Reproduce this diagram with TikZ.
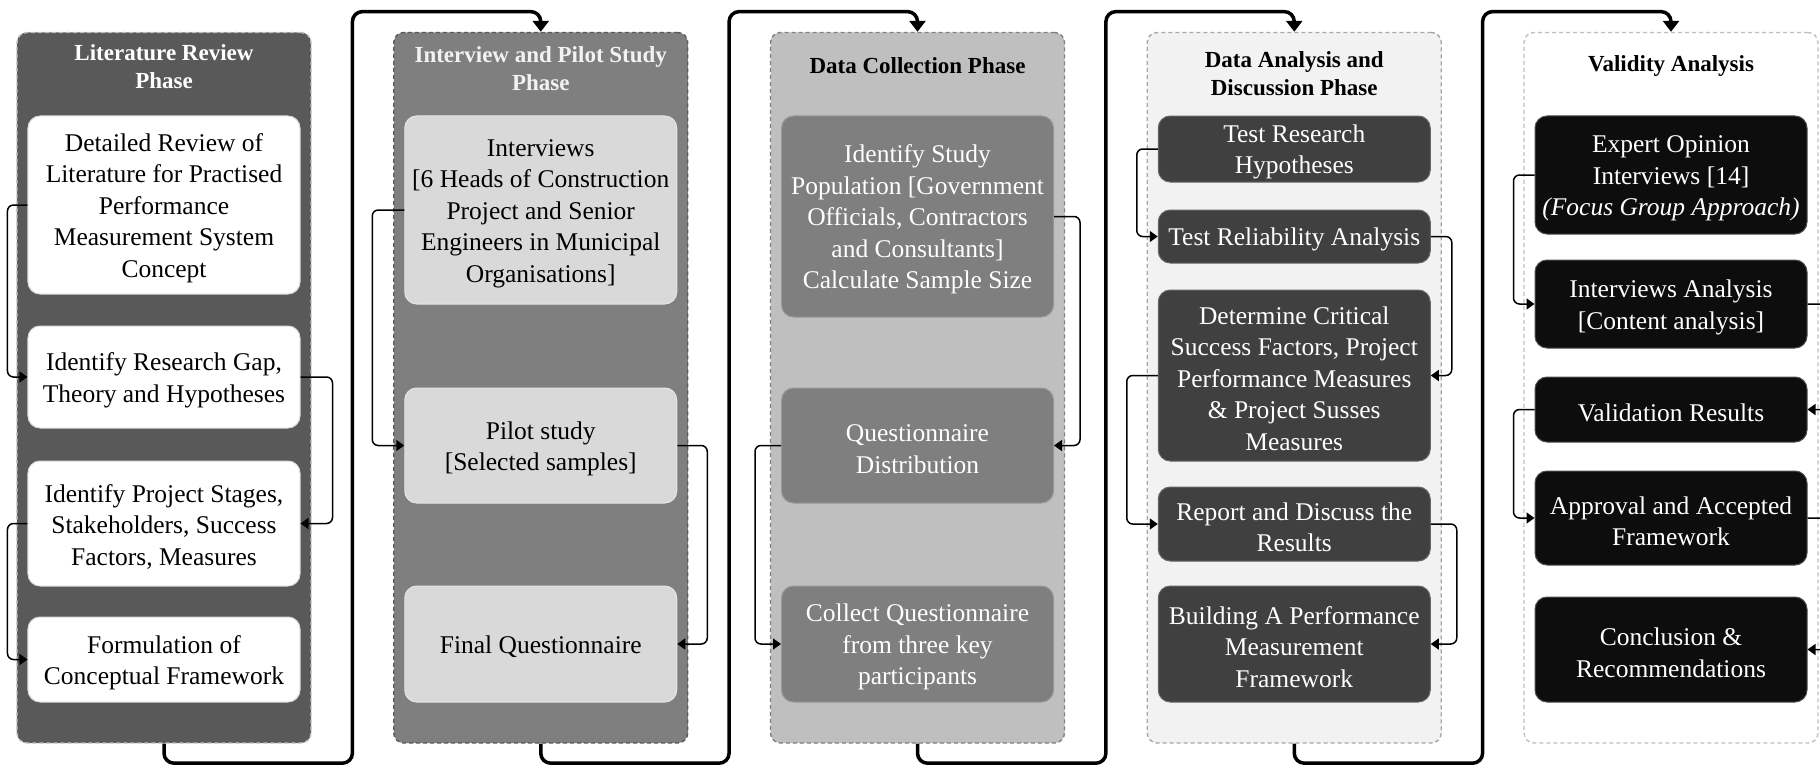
\documentclass[tikz,border=0pt]{standalone}
\usepackage{fontspec}
\setmainfont{Liberation Serif}
\usetikzlibrary{arrows.meta}

% panel fills, panel borders and step fills
\definecolor{panelA}{HTML}{595959}
\definecolor{panelB}{HTML}{7F7F7F}
\definecolor{panelC}{HTML}{BFBFBF}
\definecolor{panelD}{HTML}{F2F2F2}
\definecolor{panelE}{HTML}{FFFFFF}
\definecolor{edgeA}{HTML}{BFBFBF}
\definecolor{edgeB}{HTML}{5A5A5A}
\definecolor{edgeC}{HTML}{808080}
\definecolor{edgeD}{HTML}{A6A6A6}
\definecolor{edgeE}{HTML}{BFBFBF}
\definecolor{stepfillA}{HTML}{FFFFFF}
\definecolor{stepfillB}{HTML}{D9D9D9}
\definecolor{stepfillC}{HTML}{7F7F7F}
\definecolor{stepfillD}{HTML}{404040}
\definecolor{stepfillE}{HTML}{0D0D0D}

\newcommand\stepfont{\fontsize{25.5bp}{31.5bp}\selectfont}
\newcommand\phasefont{\fontsize{23bp}{28bp}\selectfont\bfseries}
% tall strut on the first line so each text block sits a little lower
\newcommand\ts{\rule{0pt}{24bp}}

\tikzset{
  phasebox/.style={dashed, dash pattern=on 4bp off 3bp, line width=1.4bp,
    rounded corners=10bp, minimum width=294bp, minimum height=710.5bp, inner sep=0pt},
  phasetitle/.style={font=\phasefont, align=center, inner sep=0pt, text=black},
  stepbox/.style={rounded corners=12bp, minimum width=272bp, inner sep=0pt,
    align=center, font=\stepfont, line width=1bp},
  stepA/.style={stepbox, fill=stepfillA, draw=black!15, text=black},
  stepB/.style={stepbox, fill=stepfillB, draw=black!10, text=black},
  stepC/.style={stepbox, fill=stepfillC, draw=black!40, text=white},
  stepD/.style={stepbox, fill=stepfillD, draw=black!60, text=white},
  stepE/.style={stepbox, fill=stepfillE, draw=black!70, text=white},
  link/.style={draw=black, line width=1.5bp, rounded corners=6bp,
    -{Triangle[length=8bp,width=11bp]}},
  flow/.style={draw=black, line width=3.5bp, rounded corners=10bp,
    -{Triangle[length=11bp,width=16bp]}}
}

\begin{document}
\begin{tikzpicture}[x=1bp,y=-1bp]
\useasboundingbox (0,0) rectangle (1820,765);
\clip (0,0) rectangle (1820,765);

% phase panels
\node[phasebox, draw=edgeA, fill=panelA] (p1) at (164,387.75) {};
\node[phasebox, draw=edgeB, fill=panelB] (p2) at (540.75,387.75) {};
\node[phasebox, draw=edgeC, fill=panelC] (p3) at (917.5,387.75) {};
\node[phasebox, draw=edgeD, fill=panelD] (p4) at (1294.25,387.75) {};
\node[phasebox, draw=edgeE, fill=panelE] (p5) at (1671,387.75) {};

% phase titles
\node[phasetitle, text=white] (t1) at (164,67) {Literature Review\\Phase};
\node[phasetitle, text=black!5] (t2) at (540.75,69) {Interview and Pilot Study\\Phase};
\node[phasetitle] (t3) at (917.5,66) {Data Collection Phase};
\node[phasetitle] (t4) at (1294.25,74) {Data Analysis and\\Discussion Phase};
\node[phasetitle] (t5) at (1671,66) {Validity Analysis};

% literature review steps
\node[stepA, minimum height=178bp] (a1) at (164,205) {\ts Detailed Review of\\Literature for Practised\\Performance\\Measurement System\\Concept};
\node[stepA, minimum height=102bp] (a2) at (164,377) {\ts Identify Research Gap,\\Theory and Hypotheses};
\node[stepA, minimum height=125bp] (a3) at (164,523.5) {\ts Identify Project Stages,\\Stakeholders, Success\\Factors, Measures};
\node[stepA, minimum height=85bp] (a4) at (164,659.5) {\ts Formulation of\\Conceptual Framework};

% interview and pilot study steps
\node[stepB, minimum height=188bp] (b1) at (540.75,210) {\ts Interviews\\{}[6 Heads of Construction\\Project and Senior\\Engineers in Municipal\\Organisations]};
\node[stepB, minimum height=115bp] (b2) at (540.75,445.5) {\ts Pilot study\\{}[Selected samples]};
\node[stepB, minimum height=116bp] (b3) at (540.75,644) {\ts Final Questionnaire};

% data collection steps
\node[stepC, minimum height=201bp] (c1) at (917.5,216.5) {\ts Identify Study\\Population [Government\\Officials, Contractors\\and Consultants]\\Calculate Sample Size};
\node[stepC, minimum height=115bp] (c2) at (917.5,445.5) {\ts Questionnaire\\Distribution};
\node[stepC, minimum height=116bp] (c3) at (917.5,644) {\ts Collect Questionnaire\\from three key\\participants};

% data analysis steps
\node[stepD, minimum height=66bp] (d1) at (1294.25,149) {\ts Test Research\\Hypotheses};
\node[stepD, minimum height=53bp] (d2) at (1294.25,236.5) {\ts Test Reliability Analysis};
\node[stepD, minimum height=171bp] (d3) at (1294.25,375.5) {\ts Determine Critical\\Success Factors, Project\\Performance Measures\\\& Project Susses\\Measures};
\node[stepD, minimum height=74bp] (d4) at (1294.25,524) {\ts Report and Discuss the\\Results};
\node[stepD, minimum height=116bp] (d5) at (1294.25,644) {\ts Building A Performance\\Measurement\\Framework};

% validity analysis steps
\node[stepE, minimum height=118bp] (e1) at (1671,175) {\ts Expert Opinion\\Interviews [14]\\\textit{(Focus Group Approach)}};
\node[stepE, minimum height=88bp] (e2) at (1671,304) {\ts Interviews Analysis\\{}[Content analysis]};
\node[stepE, minimum height=65bp] (e3) at (1671,409.5) {\ts Validation Results};
\node[stepE, minimum height=94bp] (e4) at (1671,518) {\ts Approval and Accepted\\Framework};
\node[stepE, minimum height=105bp] (e5) at (1671,649.5) {\ts Conclusion \&\\Recommendations};

% links inside each phase
\draw[link] (a1.west) -- ++(-20,0) |- (a2.west);
\draw[link] (a2.east) -- ++(32,0) |- (a3.east);
\draw[link] (a3.west) -- ++(-20,0) |- (a4.west);
\draw[link] (b1.west) -- ++(-32,0) |- (b2.west);
\draw[link] (b2.east) -- ++(30,0) |- (b3.east);
\draw[link] (c1.east) -- ++(26,0) |- (c2.east);
\draw[link] (c2.west) -- ++(-26,0) |- (c3.west);
\draw[link] (d1.west) -- ++(-21,0) |- (d2.west);
\draw[link] (d2.east) -- ++(21,0) |- (d3.east);
\draw[link] (d3.west) -- ++(-31,0) |- (d4.west);
\draw[link] (d4.east) -- ++(26,0) |- (d5.east);
\draw[link] (e1.west) -- ++(-21,0) |- (e2.west);
\draw[link] (e2.east) -- ++(32,0) |- (e3.east);
\draw[link] (e3.west) -- ++(-21,0) |- (e4.west);
\draw[link] (e4.east) -- ++(32,0) |- (e5.east);

% flow from one phase to the next
\draw[flow] (p1.south) -- ++(0,19.5) -| (352.4,11.6) -| (p2.north);
\draw[flow] (p2.south) -- ++(0,19.5) -| (729.1,11.6) -| (p3.north);
\draw[flow] (p3.south) -- ++(0,19.5) -| (1105.9,11.6) -| (p4.north);
\draw[flow] (p4.south) -- ++(0,19.5) -| (1482.6,11.6) -| (p5.north);
\end{tikzpicture}
\end{document}
